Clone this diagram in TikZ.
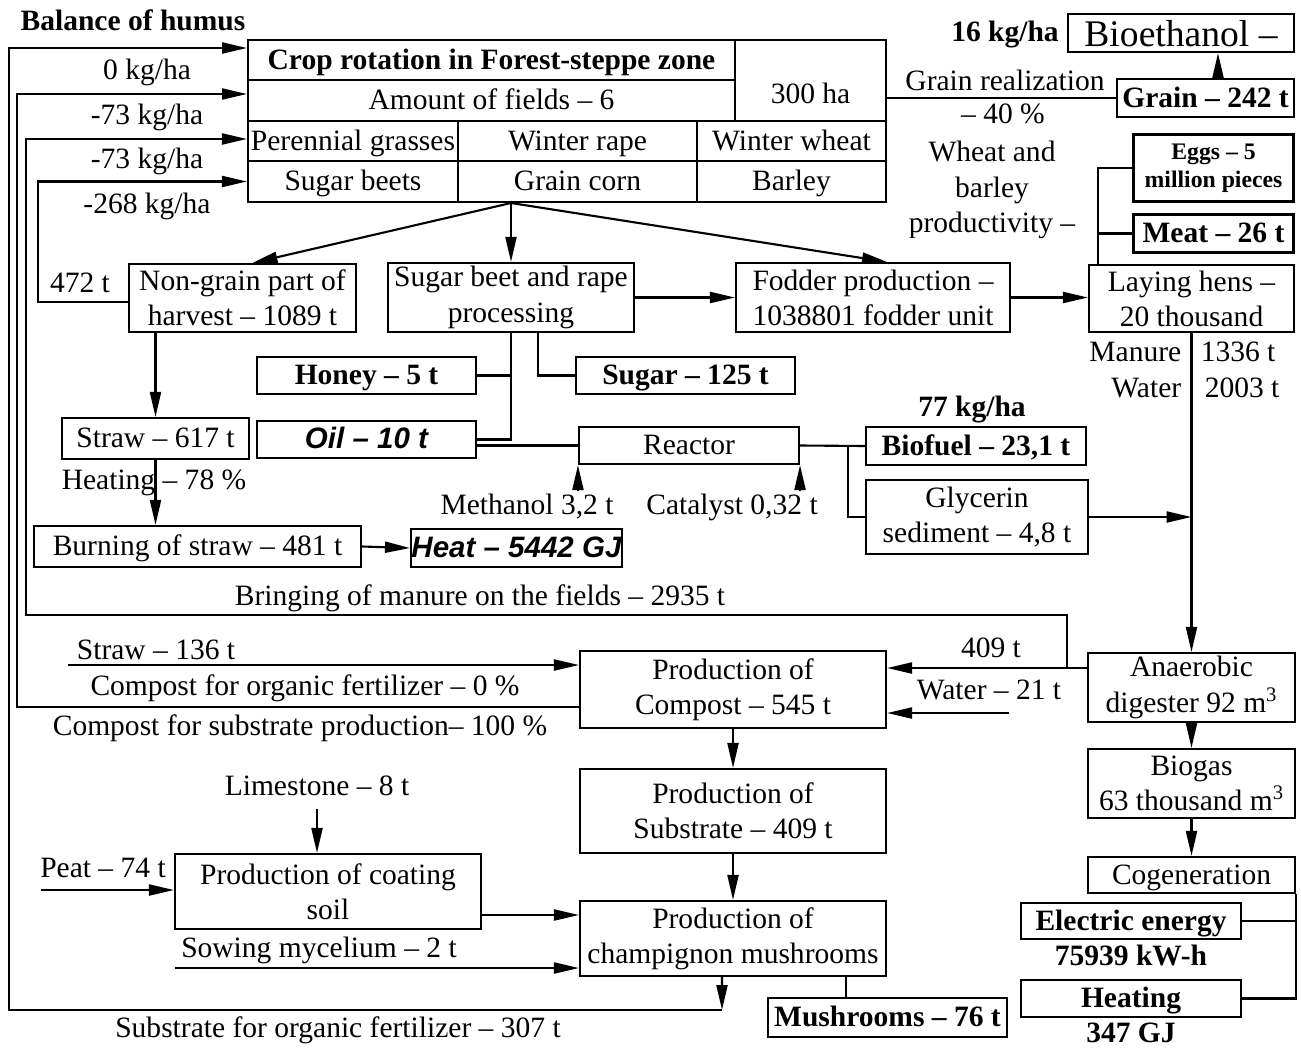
\documentclass[tikz,border=0pt]{standalone}
\usepackage{fontspec}
\setmainfont{Liberation Serif}
\newfontfamily\arialfont{Liberation Sans}
\usetikzlibrary{arrows.meta}

\begin{document}
\begin{tikzpicture}[x=0.02cm, y=-0.02cm, line width=1.2pt,
    >={Triangle[length=0.5cm,width=0.22cm]},
    every node/.style={font=\fontsize{16.8}{20}\selectfont, align=center, inner sep=1pt},
    box/.style={draw, inner sep=0pt},
    cell/.style={box, text height=14.1pt, text depth=3.7pt},
    bfont/.style={font=\fontsize{16.8}{20}\selectfont\bfseries},
    sfont/.style={font=\fontsize{16.8}{20}\selectfont\arialfont\bfseries\itshape}]
  \useasboundingbox (0,0) rectangle (1301,1048);

  \begin{scope}
    \node[bfont] (humus) at (133,20) {Balance of humus};
    \node[cell, bfont, minimum width=9.74cm, minimum height=0.8cm] (title) at (491.5,60)
    {Crop rotation in Forest-steppe zone};
    \node[cell, minimum width=9.74cm, minimum height=0.82cm] (fields) at (491.5,100.5)
    {Amount of fields – 6};
    \node[cell, minimum width=3.02cm, minimum height=1.62cm] (area) at (810.5,80.5)
    {\raisebox{-0.27cm}{300 ha}};
    \node[cell, minimum width=4.2cm, minimum height=0.8cm] (grasses) at (353,141) {Perennial grasses};
    \node[cell, minimum width=4.78cm, minimum height=0.8cm] (rape) at (577.5,141) {Winter rape};
    \node[cell, minimum width=3.78cm, minimum height=0.8cm] (wheat) at (791.5,141) {Winter wheat};
    \node[cell, minimum width=4.2cm, minimum height=0.82cm] (beets) at (353,181.5) {Sugar beets};
    \node[cell, minimum width=4.78cm, minimum height=0.82cm] (corn) at (577.5,181.5) {Grain corn};
    \node[cell, minimum width=3.78cm, minimum height=0.82cm] (barley) at (791.5,181.5) {Barley};
    \node (kg0) at (147,72) {0 kg/ha}; \node (kg73a) at (147,117) {-73 kg/ha};
    \node (kg73b) at (147,161) {-73 kg/ha}; \node (kg268) at (147,206) {-268 kg/ha};
  \end{scope}

  \begin{scope}
    \node[bfont] (kg16) at (1005,35) {16 kg/ha};
    \node[box, text depth=0pt, minimum width=4.52cm, minimum height=0.76cm,
      font=\fontsize{21.4}{24}\selectfont] (bioeth) at (1181,33) {Bioethanol –};
    \node[cell, bfont, minimum width=3.54cm, minimum height=0.76cm] (grain) at (1205.5,98)
    {Grain – 242 t};
    \node (real) at (1005,80) {Grain realization}; \node (real40) at (1003,114) {– 40 \%};
    \begin{scope}
      \clip (880,130) rectangle (1110,237);
      \node (prod) at (992,190) {Wheat and\\barley\\productivity –};
    \end{scope}
    \node[box, font=\fontsize{13.5}{16}\selectfont\bfseries, minimum width=3.2cm,
      minimum height=1.34cm] (eggs) at (1213.5,168) {Eggs – 5\\million pieces};
    \node[cell, bfont, minimum width=3.2cm, minimum height=0.76cm] (meat) at (1213.5,233.5)
    {Meat – 26 t};
    \node[box, text depth=0pt, minimum width=4.1cm, minimum height=1.34cm] (hens) at (1191.5,298.5)
    {Laying hens –\\20 thousand};
  \end{scope}

  \begin{scope}
    \node[box, minimum width=4.54cm, minimum height=1.36cm] (nongrain) at (242.5,298)
    {Non-grain part of\\harvest – 1089 t};
    \node (t472) at (80,283) {472 t};
    \node[box, minimum width=4.92cm, minimum height=1.38cm] (beet) at (511,297.5)
    {Sugar beet and rape\\processing};
    \node[box, minimum width=5.48cm, minimum height=1.38cm] (fodder) at (873,297.5)
    {Fodder production –\\1038801 fodder unit};
    \node[cell, bfont, minimum width=4.38cm, minimum height=0.74cm] (honey) at (366.5,375.5)
    {Honey – 5 t};
    \node[cell, bfont, minimum width=4.38cm, minimum height=0.74cm] (sugar) at (685.5,375.5)
    {Sugar – 125 t};
    \node[cell, sfont, minimum width=4.38cm, minimum height=0.74cm] (oil) at (366.5,439.5)
    {Oil – 10 t};
    \node[cell, minimum width=4.4cm, minimum height=0.74cm] (reactor) at (689,445.5) {Reactor};
    \node (meth) at (527,507) {Methanol 3,2 t}; \node (cat) at (732,507) {Catalyst 0,32 t};
    \node[bfont] (kg77) at (972,410) {77 kg/ha};
    \node[cell, bfont, minimum width=4.4cm, minimum height=0.76cm] (biofuel) at (976,446)
    {Biofuel – 23,1 t};
    \node[box, minimum width=4.44cm, minimum height=1.48cm] (glycerin) at (977,517)
    {Glycerin\\sediment – 4,8 t};
    \node[anchor=east] (manure) at (1184,352) {Manure};
    \node[anchor=west] (m1336) at (1198,352) {1336 t};
    \node[anchor=east] (water) at (1184,388) {Water};
    \node[anchor=west] (w2003) at (1202,388) {2003 t};
    \node[cell, minimum width=3.74cm, minimum height=0.82cm] (straw) at (155.5,438.5)
    {Straw – 617 t};
    \node (heatpct) at (154,483) {Heating – 78 \%};
    \node[cell, minimum width=6.54cm, minimum height=0.82cm] (burning) at (197.5,546.5)
    {Burning of straw – 481 t};
    \node[cell, sfont, minimum width=4.22cm, minimum height=0.76cm] (heat) at (516.5,548)
    {Heat – 5442 GJ};
    \node (manfield) at (480,598) {Bringing of manure on the fields – 2935 t};
  \end{scope}

  \begin{scope}
    \node[box, minimum width=6.12cm, minimum height=1.54cm] (compost) at (733,689.5)
    {Production of\\Compost – 545 t};
    \node[box, minimum width=6.12cm, minimum height=1.68cm] (substrate) at (733,811)
    {Production of\\Substrate – 409 t};
    \node[box, minimum width=6.12cm, minimum height=1.5cm] (mushprod) at (733,938.5)
    {Production of\\champignon mushrooms};
    \node[cell, bfont, minimum width=4.78cm, minimum height=0.78cm] (mushrooms) at (887.5,1017.5)
    {Mushrooms – 76 t};
    \node[box, minimum width=6.12cm, minimum height=1.5cm] (coating) at (328,891.5)
    {Production of coating\\soil};
    \node (lime) at (317,786) {Limestone – 8 t}; \node (peat) at (103,868) {Peat – 74 t};
    \node (sowing) at (319,950) {Sowing mycelium – 2 t};
    \node (straw136) at (156,650) {Straw – 136 t};
    \node (cofert) at (305,688) {Compost for organic fertilizer – 0 \%};
    \node (cosub) at (300,728) {Compost for substrate production– 100 \%};
    \node (subfert) at (338,1030) {Substrate for organic fertilizer – 307 t};
    \node (t409) at (991,648) {409 t}; \node (w21) at (989,690) {Water – 21 t};
    \node[box, minimum width=4.14cm, minimum height=1.38cm] (digester) at (1191.5,687.5)
    {Anaerobic\\digester 92 m\textsuperscript{3}};
    \node[box, minimum width=4.14cm, minimum height=1.38cm] (biogas) at (1191.5,783.5)
    {Biogas\\63 thousand m\textsuperscript{3}};
    \node[cell, minimum width=4.14cm, minimum height=0.72cm] (cogen) at (1191.5,875)
    {Cogeneration};
    \node[cell, bfont, minimum width=4.4cm, minimum height=0.72cm] (electric) at (1131,921)
    {Electric energy};
    \node[bfont] (kwh) at (1131,955) {75939 kW-h};
    \node[cell, bfont, minimum width=4.4cm, minimum height=0.74cm] (heating) at (1131,998.5)
    {Heating};
    \node[bfont] (gj) at (1131,1033) {347 GJ};
  \end{scope}

  \begin{scope}
    \coordinate (split) at (511,203); \coordinate (rj) at ([xshift=0.96cm]reactor.east);
    \coordinate (hj) at ([xshift=0.2cm]hens.north west);
    \coordinate (ga) at ([xshift=0.25cm]grain.north);
    \coordinate (r1) at (9,0); \coordinate (r2) at (17,0);
    \coordinate (r3) at (26,0); \coordinate (r4) at (38,0);
    \coordinate (t1) at ([yshift=0.24cm]title.west);
    \coordinate (t2) at ([yshift=0.13cm]fields.west);
    \coordinate (t3) at ([yshift=0.04cm]grasses.west);
    \coordinate (t4) at (beets.west);
    \coordinate (sub) at (722,1010); \coordinate (mturn) at (1067,615);
    \coordinate (c2) at ([yshift=-0.35cm]compost.west);
    \coordinate (c4) at ([yshift=-0.08cm]nongrain.west);
    \coordinate (d409) at ([yshift=0.39cm]digester.west);
    \coordinate (wst) at (1009,713); \coordinate (s136) at (68,665);
    \coordinate (pst) at (41,890); \coordinate (sst) at (175,968);
    \coordinate (cs) at ([yshift=-0.47cm]coating.east);
    \coordinate (mr) at ([xshift=2.26cm]mushprod.south);
  \end{scope}

  \begin{scope}
    \draw (area.east |- grain.west) -- (grain.west);
    \draw (hj) |- (eggs.west); \draw (meat.west) -- (meat.west -| hj);
    \draw (beet.south) |- (oil.east); \draw (honey.east) -- (honey.east -| beet.south);
    \draw ([xshift=0.54cm]beet.south) |- (sugar.west);
    \draw (oil.east |- reactor.west) -- (reactor.west);
    \draw (reactor.east) -- (biofuel.west); \draw (rj) |- (glycerin.west);
    \draw (mr) -- (mr |- mushrooms.north);
    \draw (cogen.south east) |- (heating.east);
    \draw (electric.east) -- (electric.east -| cogen.south east);
  \end{scope}

  \begin{scope}[->]
    \draw (ga) -- (ga |- bioeth.south);
    \draw (split) -- ([xshift=0.2cm]nongrain.north); \draw (split) -- (beet.north);
    \draw (split) -- ([xshift=0.28cm]fodder.north);
    \draw (beet.east) -- (fodder.west); \draw (fodder.east) -- (fodder.east -| hens.west);
    \draw (straw.north |- nongrain.south) -- (straw.north);
    \draw (straw.south) -- (straw.south |- burning.north);
    \draw (burning.east) -- (heat.west);
    \draw ([yshift=-0.52cm]reactor.south west) -- (reactor.south west);
    \draw ([yshift=-0.52cm]reactor.south east) -- (reactor.south east);
    \draw (glycerin.east) -- (glycerin.east -| hens.south);
    \draw (hens.south) -- (digester.north);
    \draw (digester.south) -- (biogas.north); \draw (biogas.south) -- (cogen.north);
    \draw (d409) -- (d409 -| compost.east);
    \draw (mturn |- d409) -- (mturn) -- (r3 |- mturn) -- (r3 |- t3) -- (t3);
    \draw (wst) -- (wst -| compost.east);
    \draw (s136) -- (s136 -| compost.west);
    \draw (c2) -- (r2 |- c2) -- (r2 |- t2) -- (t2);
    \draw (c4) -- (r4 |- c4) -- (r4 |- t4) -- (t4);
    \draw (compost.south) -- (substrate.north); \draw (substrate.south) -- (mushprod.north);
    \draw ([yshift=-0.2cm]lime.south) -- (lime.south |- coating.north);
    \draw (pst) -- (pst -| coating.west);
    \draw (cs) -- (cs -| mushprod.west); \draw (sst) -- (sst -| mushprod.west);
    \draw ([xshift=-0.22cm]mushprod.south) -- (sub);
    \draw (sub) -- (r1 |- sub) -- (r1 |- t1) -- (t1);
  \end{scope}
\end{tikzpicture}
\end{document}
